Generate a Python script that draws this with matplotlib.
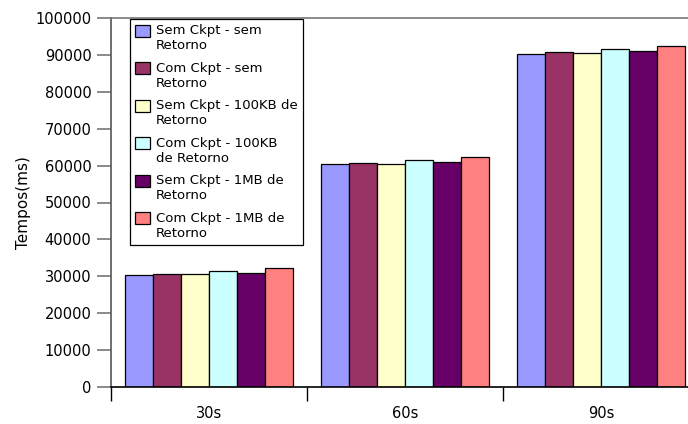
import numpy as np
import matplotlib
matplotlib.use('Agg')
import matplotlib.pyplot as plt
from matplotlib.patches import Rectangle
from matplotlib.legend_handler import HandlerPatch

categorias = ['30s', '60s', '90s']
series = ['Sem Ckpt - sem\nRetorno',
          'Com Ckpt - sem\nRetorno',
          'Sem Ckpt - 100KB de\nRetorno',
          'Com Ckpt - 100KB\nde Retorno',
          'Sem Ckpt - 1MB de\nRetorno',
          'Com Ckpt - 1MB de\nRetorno']
sem_ckpt_sem = [30300, 60300, 90300]
com_ckpt_sem = [30700, 60700, 90700]
sem_ckpt_100kb = [30500, 60500, 90500]
com_ckpt_100kb = [31500, 61500, 91500]
sem_ckpt_1mb = [31000, 61000, 91000]
com_ckpt_1mb = [32300, 62300, 92300]
cores = ['#9999FF', '#993366', '#FFFFCC', '#CCFFFF', '#660066', '#FF8080']


def quadrado_topo(legend, orig_handle, xdescent, ydescent, width, height, fontsize):
    # sobe o quadrado para ficar alinhado com a primeira linha do texto
    return Rectangle((-xdescent, -ydescent + 0.6*fontsize), width, height)


def main():
    valores = [sem_ckpt_sem, com_ckpt_sem, sem_ckpt_100kb,
               com_ckpt_100kb, sem_ckpt_1mb, com_ckpt_1mb]

    fig = plt.figure(figsize=(6.88, 4.24), dpi=100)
    ax = fig.add_axes([111/688, 37/424, 588/688, 369/424])

    x = np.arange(len(categorias))
    w = 1/7
    barras = []
    for i, (nome, v) in enumerate(zip(series, valores)):
        b = ax.bar(x + 0.5 + (i - 2.5)*w, v, w, color=cores[i],
                   edgecolor='black', linewidth=0.9, label=nome)
        barras.append(b)

    ax.set_xlim(0, 3)
    ax.set_ylim(0, 100000)
    ax.set_yticks(np.arange(0, 100001, 10000))
    ax.set_xticks([0, 1, 2, 3])
    ax.set_xticklabels([])
    ax.set_xticks(x + 0.5, minor=True)
    ax.set_xticklabels(categorias, minor=True, fontsize=10.5)
    ax.tick_params(axis='x', which='major', length=10, width=1, color='black')
    ax.tick_params(axis='x', which='minor', length=0, pad=14)
    ax.tick_params(axis='y', length=10, width=1.2, color='#777777',
                   labelsize=10.5, pad=4)

    ax.spines['right'].set_visible(False)
    ax.spines['top'].set_color('#777777')
    ax.spines['top'].set_linewidth(1.2)
    ax.spines['left'].set_color('#555555')
    ax.spines['left'].set_linewidth(1.2)
    ax.spines['bottom'].set_color('black')
    ax.spines['bottom'].set_linewidth(1.2)

    ax.set_ylabel('Tempos(ms)', fontsize=11)
    ax.yaxis.set_label_coords(-(111 - 31)/588, 0.5)

    handles = [b.patches[0] for b in barras]
    leg = fig.legend(handles, series, loc='upper left',
                     bbox_to_anchor=(130/688, 1 - 19/424),
                     borderaxespad=0, fontsize=9.5, fancybox=False,
                     framealpha=1, edgecolor='black', handlelength=1.15,
                     handleheight=1.05, handletextpad=0.4, labelspacing=0.72,
                     borderpad=0.4,
                     handler_map={Rectangle: HandlerPatch(patch_func=quadrado_topo)})
    leg.get_frame().set_linewidth(0.9)

    fig.savefig('out.png', dpi=100)


if __name__ == '__main__':
    main()
